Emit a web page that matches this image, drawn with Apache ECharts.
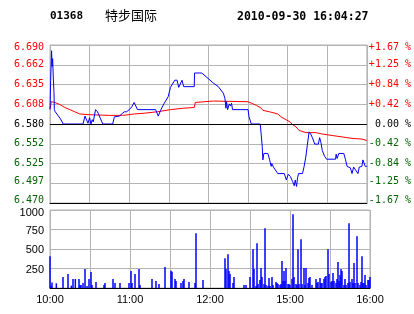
<!DOCTYPE html>
<html><head><meta charset="utf-8">
<script src="https://cdn.jsdelivr.net/npm/echarts@6/dist/echarts.min.js"></script>
<style>html,body{margin:0;padding:0;background:#fff}#c{width:414px;height:314px}</style>
</head><body><div id="c"></div>
<script>
const stockCode = '01368';
const stockName = '特步国际';
const stamp = '2010-09-30 16:04:27';
const prevClose = 6.58;
const timeLabels = ['10:00','','11:00','','12:00','','15:00','','16:00'];
const priceLabels = ['6.690','6.662','6.635','6.608','6.580','6.552','6.525','6.497','6.470'];
const pctLabels = ['+1.67 %','+1.25 %','+0.84 %','+0.42 %',' 0.00 %','-0.42 %','-0.84 %','-1.25 %','-1.67 %'];
const volLabels = ['','250','500','750','1000'];

// minutes since 10:00 on a compressed trading clock (lunch removed)
const priceTimes = [0,0.5,1.2,1.6,2,2.5,3,3.3,4,6,8,10,25,26.5,27.5,28.75,30,31,32,32.75,34.5,36,40,47.5,48.75,52.5,56.25,58,60,62,63.75,66.25,80,82,83.75,86.25,89.5,91.25,94.5,96.25,97.5,100,101.25,109.25,109.5,115,123.75,127.5,131.25,132.5,133.25,133.75,134.5,135.75,136.75,137.5,138.25,150,150.75,152.5,159.25,160.75,161.25,162,165,166.25,167.5,168,169.25,172.5,177.5,179,180.5,182,183.75,185,185.75,186.75,187.5,188.25,191.25,192.5,193.75,195,196.25,197.5,198.75,200.5,203.25,204.25,205.25,206.25,208,209.5,216.25,216.75,217.5,218.75,222.5,223.75,225,227.5,228.75,230,231.5,233.25,234.25,236.25,237,238.75,240];
const priceValues = [6.600,6.641,6.682,6.660,6.671,6.644,6.625,6.600,6.597,6.592,6.587,6.580,6.580,6.591,6.591,6.581,6.589,6.580,6.586,6.583,6.600,6.597,6.580,6.580,6.590,6.591,6.597,6.597,6.600,6.604,6.610,6.600,6.600,6.591,6.599,6.608,6.618,6.631,6.641,6.641,6.631,6.641,6.632,6.632,6.651,6.651,6.637,6.632,6.623,6.616,6.602,6.611,6.600,6.608,6.605,6.609,6.600,6.600,6.590,6.580,6.580,6.549,6.530,6.539,6.539,6.531,6.521,6.525,6.520,6.511,6.511,6.502,6.510,6.507,6.500,6.494,6.502,6.493,6.505,6.511,6.511,6.521,6.534,6.552,6.569,6.566,6.561,6.552,6.552,6.561,6.554,6.543,6.535,6.531,6.531,6.538,6.532,6.539,6.539,6.531,6.521,6.519,6.511,6.520,6.519,6.511,6.520,6.521,6.530,6.521,6.521];

const avgTimes = [0,1,3.75,7.5,11.25,15,18.75,22.5,28.75,45,55,60,63.75,71.25,81.25,91.25,101.25,109.25,110,123.75,150,152.5,156.25,160,161.25,166.25,172.5,175,178.75,181.75,183.25,186.25,188.75,193.75,201.25,206.25,213.75,221.25,228.75,236.25,240];
const avgValues = [6.601,6.611,6.610,6.607,6.603,6.600,6.597,6.594,6.593,6.592,6.592,6.593,6.594,6.595,6.597,6.600,6.602,6.603,6.610,6.612,6.611,6.609,6.606,6.602,6.599,6.597,6.594,6.590,6.586,6.583,6.580,6.576,6.571,6.568,6.568,6.566,6.564,6.562,6.560,6.559,6.557];

const volTimes = [0,0.75,1.5,4.75,9.75,13.5,16,17.25,19,21.75,22.5,23.25,24.75,26.25,27.75,29.25,30.75,31.5,34.5,40.5,41.25,47.25,48.75,52.5,59.25,60.75,61.5,63.75,66.75,67.5,76.5,79.5,81.75,86.25,90.75,91.5,93.75,94.5,98.25,99.75,100.5,104.25,108.75,109.5,114.75,131.25,132,133.5,134.25,135,137.25,138,145.5,147,150,152.25,153,154.5,155.25,156,157.5,158.25,159,160.5,161.25,162,163.5,164.25,165,166.5,167.25,169.5,170.25,171,172.5,173.25,174,174.75,175.5,176.25,177,178.5,179.25,180,181.5,182.25,183,184.5,185.25,186,186.75,188.25,189,190.5,191.25,192,193.5,194.25,195,196.5,199.5,200.25,201,202.5,203.25,204,205.5,206.25,207,208.5,209.25,210.75,211.5,212.25,213,214.5,215.25,216,216.75,217.5,218.25,219,220.5,221.25,222,223.5,224.25,225,226.5,227.25,228,228.75,230.25,231,232.5,233.25,234,234.75,235.5,236.25,237,238.5,239.25,240];
const volValues = [408,26,72,60,140,179,30,115,115,115,38,38,64,243,26,115,204,38,77,38,64,115,64,64,64,217,64,179,243,38,115,89,51,268,221,208,115,89,64,89,115,77,64,702,102,383,243,434,217,179,64,140,38,38,140,498,243,26,574,51,102,255,140,51,766,38,26,128,26,140,38,77,64,51,38,51,345,89,217,89,255,51,51,38,115,945,140,51,38,498,51,626,51,255,38,255,64,128,140,38,115,64,77,128,64,64,115,140,153,498,179,77,89,191,89,64,115,332,89,166,243,217,38,115,38,64,830,77,115,64,319,64,664,64,38,77,408,64,64,166,38,102,102,140];

const toOff = p => Math.round((p - prevClose) * 10000);
const priceData = priceTimes.map((t, i) => [t, toOff(priceValues[i])]);
const avgData = avgTimes.map((t, i) => [t, toOff(avgValues[i])]);
const volData = volTimes.map((t, i) => [t, volValues[i]]);

const gridColor = '#b4b4b4';
const mono = 'DejaVu Sans Mono';
const sans = 'Liberation Sans';
const idxOf = v => Math.round((1100 - v) / 275);
const colorOf = k => k < 4 ? '#ff0000' : (k === 4 ? '#000000' : '#006400');
const shiftOf = k => k === 0 ? [4, 0, 0, 0] : (k === 8 ? [0, 0, 6, 0] : (k === 7 ? [0, 0, 4, 0] : [0, 0, 0, 0]));
const rich = {};
for (let k = 0; k < 9; k++) rich['p' + k] = {color: colorOf(k), fontFamily: mono, fontSize: 10, padding: shiftOf(k)};
const volRich = {
  top: {color: '#000', fontFamily: sans, fontSize: 11, padding: [6, 0, 0, 0]},
  n: {color: '#000', fontFamily: sans, fontSize: 11, padding: [2, 0, 0, 0]}
};
const split = {show: true, lineStyle: {color: gridColor, width: 1}};

const chart = echarts.init(document.getElementById('c'), null, {renderer: 'canvas'});
chart.setOption({
  animation: false,
  backgroundColor: '#fff',
  graphic: [
    {type: 'text', left: 50, top: 11, style: {text: stockCode, font: 'bold 11px "DejaVu Sans Mono"', fill: '#000'}},
    {type: 'text', left: 105, top: 9, style: {text: stockName, font: '13px "Noto Sans CJK SC"', fill: '#000'}},
    {type: 'text', left: 237, top: 11, style: {text: stamp, font: 'bold 11.5px "DejaVu Sans Mono"', fill: '#000'}}
  ],
  grid: [
    {left: 50, top: 45, width: 320, height: 158, show: true, borderColor: gridColor, borderWidth: 1, backgroundColor: 'transparent'},
    {left: 50, top: 210, width: 320, height: 78, show: true, borderColor: gridColor, borderWidth: 1, backgroundColor: 'transparent'}
  ],
  xAxis: [
    {type: 'value', gridIndex: 0, min: 0, max: 240, interval: 30,
      axisLine: {show: true, onZero: false, lineStyle: {color: '#000', width: 1}}, axisTick: {show: false}, axisLabel: {show: false},
      splitLine: split},
    {type: 'value', gridIndex: 1, min: 0, max: 240, interval: 30,
      axisLine: {show: true, onZero: false, lineStyle: {color: '#000', width: 1}}, axisTick: {show: false},
      axisLabel: {show: true, margin: 6, color: '#000', fontFamily: sans, fontSize: 11,
        formatter: v => timeLabels[Math.round(v / 30)] || ''},
      splitLine: split}
  ],
  yAxis: [
    {type: 'value', gridIndex: 0, min: -1100, max: 1100, interval: 275, position: 'left',
      axisLine: {show: false}, axisTick: {show: false}, splitLine: split,
      axisLabel: {margin: 6, rich: rich, formatter: v => { const k = idxOf(v); return '{p' + k + '|' + priceLabels[k] + '}'; }}},
    {type: 'value', gridIndex: 0, min: -1100, max: 1100, interval: 275, position: 'right',
      axisLine: {show: false}, axisTick: {show: false}, splitLine: {show: false},
      axisLabel: {margin: 2, align: 'left', rich: rich, formatter: v => { const k = idxOf(v); return '{p' + k + '|' + pctLabels[k] + '}'; }}},
    {type: 'value', gridIndex: 1, min: 0, max: 1000, interval: 250,
      axisLine: {show: false}, axisTick: {show: false}, splitLine: split,
      axisLabel: {margin: 6, rich: volRich, formatter: v => { const k = Math.round(v / 250); const s = volLabels[k] || ''; return s ? '{' + (k === 4 ? 'top' : 'n') + '|' + s + '}' : ''; }}}
  ],
  series: [
    {type: 'line', xAxisIndex: 0, yAxisIndex: 0, data: [], z: 1, silent: true,
      markLine: {silent: true, symbol: 'none', label: {show: false}, animation: false,
        lineStyle: {color: '#000', width: 1, type: 'solid'}, data: [{yAxis: 0}]}},
    {type: 'line', xAxisIndex: 0, yAxisIndex: 0, data: avgData, showSymbol: false, z: 2,
      lineStyle: {color: '#ff0000', width: 1}},
    {type: 'line', xAxisIndex: 0, yAxisIndex: 0, data: priceData, showSymbol: false, z: 3,
      lineStyle: {color: '#0000ff', width: 1}},
    {type: 'bar', xAxisIndex: 1, yAxisIndex: 2, data: volData, barWidth: 1.5, z: 3, itemStyle: {color: '#0000ff'}}
  ]
});
</script></body></html>
